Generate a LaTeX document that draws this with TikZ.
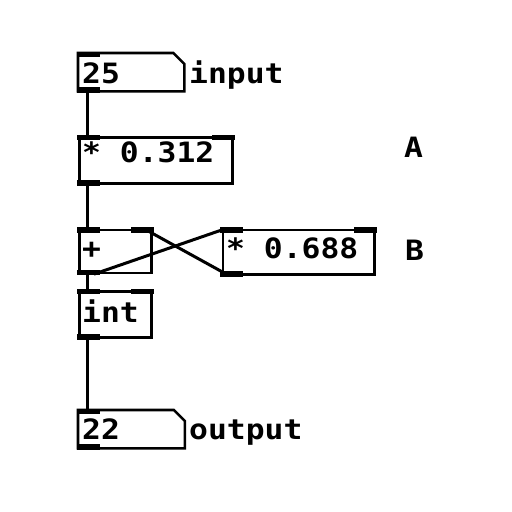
\documentclass[tikz,border=0pt]{standalone}
\usepackage{fontspec}
\newfontfamily\pdfont[FakeStretch=1.12]{DejaVu Sans Mono Bold}
\begin{document}
\begin{tikzpicture}[x=1pt,y=-1pt,
  box/.style={draw=black, line width=2.6pt, inner sep=0pt, anchor=north west, fill=white},
  atombox/.style={inner sep=0pt, anchor=north west},
  atomline/.style={draw=black, line width=2.6pt, fill=white},
  txt/.style={inner sep=0pt, anchor=base west, font=\pdfont\fontsize{28}{28}\selectfont},
  wire/.style={line width=3pt},
  port/.style={fill=black}]
\useasboundingbox (0,0) rectangle (512,512);
\fill[white] (0,0) rectangle (512,512);
% boxes
\node[atombox, minimum width=106, minimum height=38] (n1) at (78,53) {};
\draw[atomline] (n1.north west) -- ([xshift=-11pt]n1.north east) -- ([yshift=-11pt]n1.north east) -- (n1.south east) -- (n1.south west) -- cycle;
\node[box, minimum width=153, minimum height=46] (m1) at (78,136) {};
\node[box, minimum width=72, minimum height=43] (add) at (78,228.5) {};
\node[box, minimum width=151.5, minimum height=44.5] (m2) at (221.5,228.5) {};
\node[box, minimum width=72, minimum height=46] (int) at (78,290) {};
\node[atombox, minimum width=106.5, minimum height=38] (n2) at (78,410) {};
\draw[atomline] (n2.north west) -- ([xshift=-11pt]n2.north east) -- ([yshift=-11pt]n2.north east) -- (n2.south east) -- (n2.south west) -- cycle;
% connection points
\coordinate (n1o) at ([xshift=9pt]n1.south west);
\coordinate (m1i) at ([xshift=9pt]m1.north west);
\coordinate (m1o) at ([xshift=9pt]m1.south west);
\coordinate (addi) at ([xshift=9pt]add.north west);
\coordinate (addo) at ([xshift=9pt]add.south west);
\coordinate (addox) at ([xshift=16pt]add.south west);
\coordinate (addr) at ([xshift=-9pt]add.north east);
\coordinate (inti) at ([xshift=9pt]int.north west);
\coordinate (into) at ([xshift=9pt]int.south west);
\coordinate (m2i) at ([xshift=4.5pt]m2.north west);
\coordinate (m2o) at ([xshift=7.5pt]m2.south west);
\coordinate (n2i) at ([xshift=9pt]n2.north west);
% wires
\draw[wire] (n1o) -- (m1i);
\draw[wire] (m1o) -- (addi);
\draw[wire] (addo) -- (inti);
\draw[wire] (into) -- (n2i);
\draw[wire] (addox) -- (m2i);
\draw[wire] (m2o) -- (addr);
% ports
\foreach \n in {n1,m1,add,m2,int,n2}{
  \fill[port] ([shift={(-1.3,-1.3)}]\n.north west) rectangle +(23,5.5);
  \fill[port] ([shift={(-1.3,1.3)}]\n.south west) rectangle +(23,-5.5);
}
\foreach \n in {m1,add,m2,int}{
  \fill[port] ([shift={(-21.7,-1.3)}]\n.north east) rectangle +(23,5.5);
}
% texts
\node[txt] (t25) at (82,83) {25};
\node[txt] (tin) at (189,83) {input};
\node[txt] (tm1) at (82,162) {* 0.312};
\node[txt] (tadd) at (82,258) {+};
\node[txt] (tm2) at (226,258) {* 0.688};
\node[txt] (tint) at (82,322) {int};
\node[txt] (t22) at (82,439) {22};
\node[txt] (tout) at (189,439) {output};
\node[txt] (lA) at (404,157) {A};
\node[txt] (lB) at (405,260) {B};
\end{tikzpicture}
\end{document}
